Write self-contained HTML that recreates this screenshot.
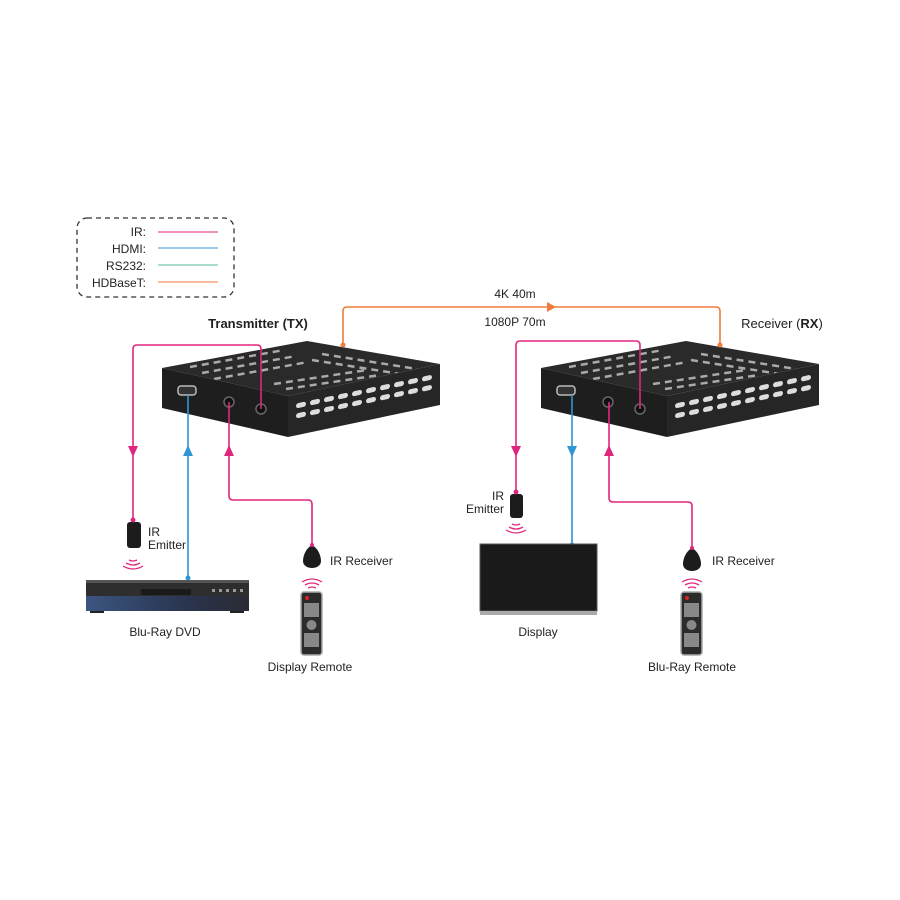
<!DOCTYPE html>
<html><head><meta charset="utf-8"><style>body{margin:0;background:#fff}svg{display:block}text{font-family:"Liberation Sans",Arial,sans-serif;fill:#222}</style></head><body>
<svg width="900" height="900" viewBox="0 0 900 900" xmlns="http://www.w3.org/2000/svg">
<defs>
<linearGradient id="dvdg" x1="0" x2="1" y1="0" y2="0"><stop offset="0" stop-color="#3c5580"/><stop offset="0.6" stop-color="#2a3550"/><stop offset="1" stop-color="#2a2a33"/></linearGradient>
<g id="dev">
<polygon points="0,0 145,-27 278,-4 126,28" fill="#2a2a2a"/>
<g stroke="#aaa" stroke-width="2.5" stroke-dasharray="7,5">
<line x1="28" y1="-1" x2="122" y2="-18"/><line x1="40" y1="5" x2="134" y2="-12"/><line x1="52" y1="11" x2="146" y2="-6"/>
<line x1="160" y1="-14" x2="255" y2="1"/><line x1="150" y1="-8" x2="245" y2="7"/>
<line x1="112" y1="16" x2="205" y2="2"/><line x1="124" y1="21" x2="218" y2="7"/>
</g>
<polygon points="0,0 126,28 126,69 0,40" fill="#1e1e1e"/>
<polygon points="126,28 278,-4 278,37 126,69" fill="#262626"/>
<g fill="#ddd">
<g transform="skewY(-12)">
<rect x="134" y="64" width="10" height="5" rx="2.5"/><rect x="148" y="64" width="10" height="5" rx="2.5"/><rect x="162" y="64" width="10" height="5" rx="2.5"/><rect x="176" y="64" width="10" height="5" rx="2.5"/><rect x="190" y="64" width="10" height="5" rx="2.5"/><rect x="204" y="64" width="10" height="5" rx="2.5"/><rect x="218" y="64" width="10" height="5" rx="2.5"/><rect x="232" y="64" width="10" height="5" rx="2.5"/><rect x="246" y="64" width="10" height="5" rx="2.5"/><rect x="260" y="64" width="10" height="5" rx="2.5"/>
<rect x="134" y="74" width="10" height="5" rx="2.5"/><rect x="148" y="74" width="10" height="5" rx="2.5"/><rect x="162" y="74" width="10" height="5" rx="2.5"/><rect x="176" y="74" width="10" height="5" rx="2.5"/><rect x="190" y="74" width="10" height="5" rx="2.5"/><rect x="204" y="74" width="10" height="5" rx="2.5"/><rect x="218" y="74" width="10" height="5" rx="2.5"/><rect x="232" y="74" width="10" height="5" rx="2.5"/><rect x="246" y="74" width="10" height="5" rx="2.5"/><rect x="260" y="74" width="10" height="5" rx="2.5"/>
</g></g>
<rect x="16" y="18" width="18" height="9" rx="3" fill="#333" stroke="#bbb" stroke-width="1.5"/>
<circle cx="67" cy="34" r="5" fill="#111" stroke="#666" stroke-width="1.5"/>
<circle cx="99" cy="41" r="5" fill="#111" stroke="#666" stroke-width="1.5"/>
</g>
<g id="remote"><rect x="0" y="0" width="21" height="63" rx="3" fill="#2b2b2b" stroke="#aaa" stroke-width="1.5"/><circle cx="6" cy="6" r="2" fill="#d22"/><g fill="#888"><rect x="3" y="11" width="15" height="14"/><circle cx="10.5" cy="33" r="5"/><rect x="3" y="41" width="15" height="14"/></g></g>
<g id="egg"><path d="M0,-12 C7,-8 9,0 9,4 C9,9 4,11 0,11 C-4,11 -9,9 -9,4 C-9,0 -7,-8 0,-12Z" fill="#1c1c1c"/></g>
<g id="waves" fill="none" stroke="#e0267d" stroke-width="1.3"><path d="M-4,0 Q0,2 4,0"/><path d="M-7,3 Q0,7 7,3"/><path d="M-10,6 Q0,12 10,6"/></g>
<g id="wavesUp" fill="none" stroke="#e0267d" stroke-width="1.3"><path d="M-4,0 Q0,-2 4,0"/><path d="M-7,-3 Q0,-7 7,-3"/><path d="M-10,-6 Q0,-12 10,-6"/></g>
</defs>

<rect x="77" y="218" width="157" height="79" rx="10" fill="none" stroke="#333" stroke-dasharray="5,4" stroke-width="1.3"/>
<g font-size="12" text-anchor="end"><text x="146" y="236">IR:</text><text x="146" y="253">HDMI:</text><text x="146" y="270">RS232:</text><text x="146" y="287">HDBaseT:</text></g>
<line x1="158" y1="232" x2="218" y2="232" stroke="#e0267d"/><line x1="158" y1="248" x2="218" y2="248" stroke="#2f95d4"/><line x1="158" y1="265" x2="218" y2="265" stroke="#8fd1b5" stroke-width="1.5"/><line x1="158" y1="282" x2="218" y2="282" stroke="#f07b3c"/>

<text x="258" y="328" font-size="13" font-weight="bold" text-anchor="middle">Transmitter (TX)</text>
<text x="782" y="328" font-size="13" text-anchor="middle">Receiver (<tspan font-weight="bold">RX</tspan>)</text>
<text x="515" y="298" font-size="12" text-anchor="middle">4K 40m</text>
<text x="515" y="326" font-size="12" text-anchor="middle">1080P 70m</text>

<use href="#dev" x="162" y="368"/>
<use href="#dev" x="541" y="368"/>

<g fill="none" stroke-width="1.6">
<path d="M343,345 V311 Q343,307 347,307 H716 Q720,307 720,311 V345" stroke="#f07b3c"/>
<path d="M261,409 V349 Q261,345 257,345 H137 Q133,345 133,349 V520" stroke="#e0267d"/>
<path d="M188,395 V578" stroke="#2f95d4"/>
<path d="M229,402 V496 Q229,500 233,500 H308 Q312,500 312,504 V545" stroke="#e0267d"/>
<path d="M640,409 V345 Q640,341 636,341 H520 Q516,341 516,345 V492" stroke="#e0267d"/>
<path d="M572,395 V545" stroke="#2f95d4"/>
<path d="M609,402 V498 Q609,502 613,502 H688 Q692,502 692,506 V548" stroke="#e0267d"/>
</g>
<g>
<polygon points="547,302 556,307 547,312" fill="#f07b3c"/>
<polygon points="128,446 133,457 138,446" fill="#e0267d"/>
<polygon points="183,456 188,445 193,456" fill="#2f95d4"/>
<polygon points="224,456 229,445 234,456" fill="#e0267d"/>
<polygon points="511,446 516,457 521,446" fill="#e0267d"/>
<polygon points="567,446 572,457 577,446" fill="#2f95d4"/>
<polygon points="604,456 609,445 614,456" fill="#e0267d"/>
<circle cx="343" cy="345" r="2.5" fill="#f07b3c"/><circle cx="720" cy="345" r="2.5" fill="#f07b3c"/>
<circle cx="188" cy="578" r="2.5" fill="#2f95d4"/><circle cx="572" cy="545" r="2.5" fill="#2f95d4"/>
</g>

<rect x="127" y="522" width="14" height="26" rx="3" fill="#1c1c1c"/><circle cx="133" cy="520" r="2.5" fill="#e0267d"/>
<use href="#waves" x="133" y="560"/>
<text x="148" y="536" font-size="12">IR</text><text x="148" y="549" font-size="12">Emitter</text>
<use href="#egg" x="312" y="557"/><circle cx="312" cy="545" r="2" fill="#e0267d"/>
<text x="330" y="565" font-size="12">IR Receiver</text>
<use href="#wavesUp" x="312" y="588"/>
<use href="#remote" x="301" y="592"/>
<text x="310" y="671" font-size="12" text-anchor="middle">Display Remote</text>
<rect x="86" y="580" width="163" height="31" rx="2" fill="#2e2e2e"/>
<rect x="86" y="596" width="163" height="15" fill="url(#dvdg)"/>
<rect x="86" y="580" width="163" height="3" fill="#555"/>
<rect x="141" y="589" width="50" height="6" fill="#1a1a1a"/>
<g fill="#999"><rect x="212" y="589" width="3" height="3"/><rect x="219" y="589" width="3" height="3"/><rect x="226" y="589" width="3" height="3"/><rect x="233" y="589" width="3" height="3"/><rect x="240" y="589" width="3" height="3"/></g>
<rect x="90" y="611" width="14" height="2" fill="#222"/><rect x="230" y="611" width="14" height="2" fill="#222"/>
<text x="165" y="636" font-size="12" text-anchor="middle">Blu-Ray DVD</text>

<rect x="510" y="494" width="13" height="24" rx="3" fill="#1c1c1c"/><circle cx="516" cy="492" r="2.5" fill="#e0267d"/>
<use href="#waves" x="516" y="524"/>
<text x="504" y="500" font-size="12" text-anchor="end">IR</text><text x="504" y="513" font-size="12" text-anchor="end">Emitter</text>
<rect x="480" y="544" width="117" height="67" fill="#1a1a1a" stroke="#555" stroke-width="1"/><rect x="480" y="611" width="117" height="4" fill="#aaa"/>
<text x="538" y="636" font-size="12" text-anchor="middle">Display</text>
<use href="#egg" x="692" y="560"/><circle cx="692" cy="548" r="2" fill="#e0267d"/>
<text x="712" y="565" font-size="12">IR Receiver</text>
<use href="#wavesUp" x="692" y="588"/>
<use href="#remote" x="681" y="592"/>
<text x="692" y="671" font-size="12" text-anchor="middle">Blu-Ray Remote</text>
</svg>
</body></html>
